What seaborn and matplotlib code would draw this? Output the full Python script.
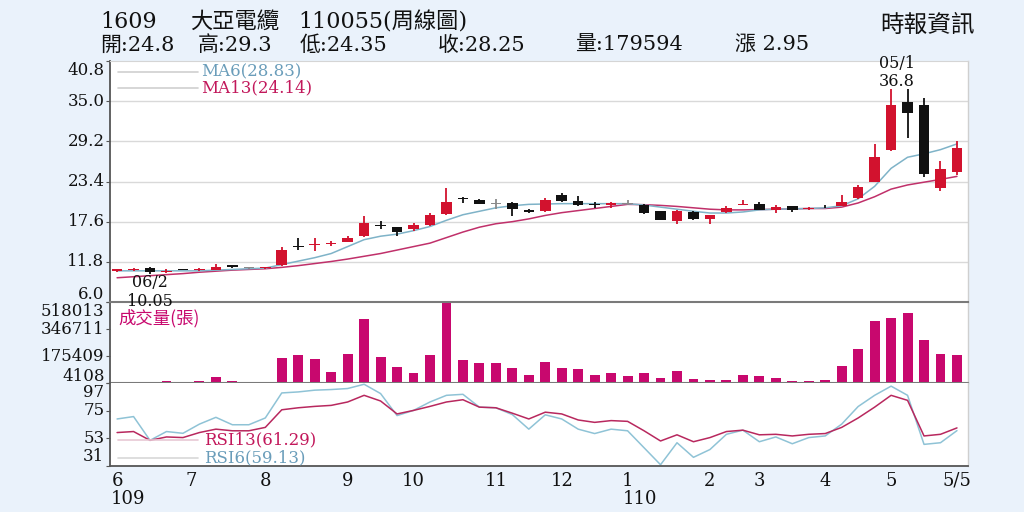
import numpy as np
import pandas as pd
import matplotlib
matplotlib.use("Agg")
import matplotlib.pyplot as plt
import seaborn as sns

# ---------------- data ----------------
open_ = [10.5, 10.65, 10.9, 10.4, 10.62, 10.55, 10.65, 11.3, 10.9, 10.85,
         11.3, 14.05, 14.2, 14.35, 14.7, 15.5, 17.1, 16.8, 16.6, 17.1,
         18.7, 20.95, 20.8, 20.1, 20.3, 19.3, 19.1, 21.4, 20.6, 20.1,
         19.95, 20.2, 20.0, 19.2, 17.65, 18.95, 18.0, 18.95, 20.05, 20.15,
         19.3, 19.8, 19.45, 19.75, 19.9, 21.0, 23.4, 27.9, 34.9, 34.45,
         22.4, 24.8]
high = [10.8, 10.9, 11.0, 10.7, 10.65, 10.85, 11.45, 11.4, 11.1, 11.0,
        14.0, 15.2, 15.2, 14.8, 15.6, 18.4, 17.7, 16.9, 17.4, 18.8,
        22.5, 21.2, 20.9, 20.9, 20.4, 19.5, 21.0, 21.7, 21.3, 20.4,
        20.5, 20.75, 20.1, 19.2, 19.3, 19.1, 18.6, 19.8, 20.7, 20.4,
        20.0, 19.9, 19.75, 19.95, 21.5, 22.9, 28.85, 36.8, 36.7, 35.5,
        26.3, 29.3]
low = [10.4, 10.5, 10.05, 10.2, 10.55, 10.5, 10.6, 10.95, 10.7, 10.8,
       11.2, 13.5, 13.3, 14.1, 14.6, 15.4, 16.5, 15.5, 16.3, 17.0,
       18.6, 20.3, 20.1, 19.5, 18.4, 18.8, 19.0, 20.5, 19.9, 19.6,
       19.6, 20.0, 18.7, 17.8, 17.2, 17.9, 17.3, 18.9, 20.0, 19.25,
       18.9, 19.0, 19.3, 19.6, 19.85, 20.9, 23.3, 27.8, 29.7, 24.0,
       22.1, 24.35]
close = [10.7, 10.7, 10.3, 10.45, 10.58, 10.7, 11.1, 11.0, 10.9, 10.92,
         13.5, 13.95, 14.3, 14.45, 15.3, 17.4, 17.0, 16.1, 17.05, 18.5,
         20.5, 20.85, 20.2, 20.1, 19.4, 18.95, 20.7, 20.55, 20.0, 20.0,
         20.3, 20.2, 18.85, 17.8, 19.2, 18.0, 18.5, 19.6, 20.15, 19.3,
         19.7, 19.3, 19.55, 19.65, 20.45, 22.6, 27.0, 34.45, 33.35, 24.55,
         25.2, 28.25]
ma6 = [10.5, 10.5, 10.5, 10.5, 10.5, 10.5, 10.6, 10.7, 10.8, 10.9,
       11.4, 11.9, 12.4, 13.0, 14.0, 15.0, 15.5, 15.8, 16.3, 16.9,
       17.8, 18.6, 19.1, 19.6, 19.9, 20.1, 20.15, 20.2, 20.2, 20.2,
       20.2, 20.2, 20.0, 19.7, 19.4, 19.1, 18.85, 18.85, 19.0, 19.3,
       19.4, 19.45, 19.5, 19.6, 19.9, 20.9, 22.7, 25.3, 26.9, 27.4,
       28.0, 28.83]
ma13 = [9.5, 9.65, 9.8, 9.95, 10.1, 10.3, 10.45, 10.6, 10.7, 10.8,
        11.0, 11.25, 11.55, 11.85, 12.2, 12.6, 13.0, 13.5, 14.0, 14.5,
        15.3, 16.1, 16.8, 17.3, 17.6, 18.0, 18.5, 18.9, 19.2, 19.5,
        19.8, 20.1, 20.05, 19.95, 19.8, 19.6, 19.4, 19.3, 19.3, 19.35,
        19.4, 19.45, 19.5, 19.5, 19.7, 20.3, 21.2, 22.3, 22.9, 23.3,
        23.7, 24.14]
volume = [12000, 6000, 9000, 14000, 4500, 18000, 44000, 18000, 10000, 10000,
          163000, 184000, 156000, 76700, 188500, 408800, 169200, 105000, 66400, 184000,
          518013, 147000, 132600, 132600, 102400, 58000, 137000, 102400, 94000, 53500,
          70500, 49000, 70000, 34000, 79000, 30000, 23400, 25000, 53500, 47000,
          34000, 19000, 19000, 25000, 109000, 220000, 398000, 417000, 449000, 280000,
          188000, 179594]
rsi6 = [68.4, 70.3, 51.4, 58.4, 57.0, 64.3, 69.7, 63.8, 63.8, 69.2,
        89.1, 89.9, 91.3, 91.8, 92.6, 96.0, 88.6, 71.1, 75.2, 81.9,
        87.2, 88.0, 77.8, 77.3, 71.9, 60.3, 71.7, 68.4, 60.3, 56.8,
        60.3, 59.0, 45.5, 32.0, 49.5, 37.9, 44.1, 56.2, 59.5, 50.3,
        54.1, 48.7, 53.6, 54.9, 64.3, 78.3, 87.2, 94.5, 87.2, 48.2,
        49.5, 59.13]
rsi13 = [57.6, 58.4, 51.4, 54.1, 53.6, 57.6, 60.3, 59.0, 59.0, 61.7,
         75.7, 77.3, 78.4, 79.2, 81.9, 87.2, 82.7, 72.4, 75.2, 78.4,
         81.9, 83.7, 77.8, 77.3, 73.0, 68.4, 73.8, 72.4, 67.6, 65.7,
         67.1, 66.5, 59.0, 50.9, 55.8, 50.3, 53.6, 58.4, 59.5, 55.8,
         56.2, 54.9, 56.2, 56.8, 61.7, 69.2, 77.8, 87.2, 83.2, 54.9,
         56.2, 61.29]

price_ticks = [6.0, 11.8, 17.6, 23.4, 29.2, 35.0, 40.8]
vol_ticks = [4108, 175409, 346711, 518013]
rsi_ticks = [31, 53, 75, 97]
month_pos = [0, 4.5, 9, 14, 18, 23, 27, 31, 36, 39, 43, 47, 51]
month_labels = ["6", "7", "8", "9", "10", "11", "12", "1", "2", "3", "4", "5", "5/5"]
year_labels = [("109", -0.4), ("110", 30.7)]

title_parts = ["1609", "大亞電纜", "110055(周線圖)"]
info_parts = ["開:24.8", "高:29.3", "低:24.35", "收:28.25", "量:179594", "漲 2.95"]
source_text = "時報資訊"
low_note = ("06/2", "10.05")
high_note = ("05/1", "36.8")

# ---------------- styling ----------------
sns.set_style("white")
plt.rcParams["font.family"] = ["DejaVu Serif", "Noto Sans CJK TC"]

RED = "#d2122e"
BLACK = "#111111"
GREY = "#8a8a8a"
MA6_C = "#7fb3c8"
MA13_C = "#c0306a"
VOL_C = "#c8086e"
RSI6_C = "#8fc3d6"
RSI13_C = "#b8285e"
BG = "#eaf2fb"

df = pd.DataFrame({"open": open_, "high": high, "low": low, "close": close,
                   "ma6": ma6, "ma13": ma13, "vol": volume,
                   "rsi6": rsi6, "rsi13": rsi13})
df["i"] = np.arange(len(df))
n = len(df)

fig = plt.figure(figsize=(10.24, 5.12), dpi=100, facecolor=BG)
L, W = 110 / 1024, 858 / 1024
ax1 = fig.add_axes([L, 1 - 302 / 512, W, 241 / 512])
ax2 = fig.add_axes([L, 1 - 383 / 512, W, 81 / 512], sharex=ax1)
ax3 = fig.add_axes([L, 1 - 466 / 512, W, 83 / 512], sharex=ax1)
for ax in (ax1, ax2, ax3):
    ax.set_facecolor("white")
ax1.set_zorder(5)

# ---------------- price panel ----------------
o = df["open"].values; c = df["close"].values
cols = [RED if cc > oo else (BLACK if cc < oo else GREY) for oo, cc in zip(o, c)]
for y in price_ticks[1:-1]:
    ax1.axhline(y, color="#d9d9d9", lw=1.0, zorder=0)
sns.lineplot(data=df, x="i", y="ma13", ax=ax1, color=MA13_C, lw=1.1, zorder=2)
sns.lineplot(data=df, x="i", y="ma6", ax=ax1, color=MA6_C, lw=1.1, zorder=2)
ax1.vlines(df["i"], df["low"], df["high"], colors=cols, lw=1.3, zorder=3)
ax1.bar(df["i"], np.maximum(np.abs(c - o), 0.14), bottom=np.minimum(o, c),
        width=0.64, color=cols, zorder=4, linewidth=0)
ax1.set_ylim(price_ticks[0], price_ticks[-1])
ax1.set_yticks(price_ticks)

# ---------------- volume panel ----------------
sns.barplot(data=df, x="i", y="vol", ax=ax2, color=VOL_C, saturation=1,
            width=0.6, native_scale=True, errorbar=None, linewidth=0)
ax2.set_ylim(vol_ticks[0], vol_ticks[-1])
ax2.set_yticks(vol_ticks)

# ---------------- RSI panel ----------------
sns.lineplot(data=df, x="i", y="rsi6", ax=ax3, color=RSI6_C, lw=1.1)
sns.lineplot(data=df, x="i", y="rsi13", ax=ax3, color=RSI13_C, lw=1.1)
ax3.set_ylim(rsi_ticks[0], rsi_ticks[-1])
ax3.set_yticks(rsi_ticks)
ax1.set_xlim(-0.43, n - 1 + 0.67)

# ---------------- axes cosmetics ----------------
for ax in (ax1, ax2, ax3):
    ax.set_xlabel(""); ax.set_ylabel("")
    ax.tick_params(axis="y", which="both", left=True, length=3, width=0.8,
                   color="#555555", labelleft=False)
    ax.spines["left"].set_color("#555555"); ax.spines["left"].set_linewidth(1.3)
    ax.spines["right"].set_color("#cfcfcf"); ax.spines["right"].set_linewidth(1.0)
ax1.spines["top"].set_color("#d5d5d5")
ax1.spines["bottom"].set_color("#7a7a7a"); ax1.spines["bottom"].set_linewidth(1.5)
ax2.spines["top"].set_visible(False)
ax2.spines["bottom"].set_color("#7a7a7a"); ax2.spines["bottom"].set_linewidth(1.5)
ax3.spines["top"].set_visible(False)
ax3.spines["bottom"].set_color("#555555"); ax3.spines["bottom"].set_linewidth(1.3)
for ax in (ax1, ax2):
    ax.tick_params(axis="x", which="both", bottom=False, labelbottom=False)

ax3.set_xticks(month_pos)
ax3.set_xticks(np.arange(n), minor=True)
ax3.set_xticklabels(month_labels, fontsize=13, color="#111111")
ax3.tick_params(axis="x", which="major", length=4, color="#666666", pad=0)
ax3.tick_params(axis="x", which="minor", length=2.5, color="#888888")
for txt, xpos in year_labels:
    ax3.annotate(txt, xy=(xpos, 0), xycoords=("data", "axes fraction"),
                 xytext=(0, -24), textcoords="offset points",
                 ha="left", va="center", fontsize=13, color="#111111")


def ylabels(ax, ticks, fmt, top_off, bot_off):
    for k, v in enumerate(ticks):
        dy = top_off if k == len(ticks) - 1 else (bot_off if k == 0 else 0)
        ax.annotate(fmt(v), xy=(0, v), xycoords=("axes fraction", "data"),
                    xytext=(-4, dy), textcoords="offset points",
                    ha="right", va="center", fontsize=12, color="#111111",
                    annotation_clip=False)


ylabels(ax1, price_ticks, lambda v: f"{v:.1f}", -6.5, 5.5)
ylabels(ax2, vol_ticks, lambda v: f"{v:d}", -6.5, 4.5)
ylabels(ax3, rsi_ticks, lambda v: f"{v:d}", -6.5, 6.5)

# ---------------- legends / labels ----------------
x0, x1, xt = 8 / 858, 88 / 858, 91 / 858
ax1.plot([x0, x1], [0.954, 0.954], transform=ax1.transAxes, color="#d0d0d0", lw=1.2)
ax1.plot([x0, x1], [0.888, 0.888], transform=ax1.transAxes, color="#d0d0d0", lw=1.2)
ax1.text(xt, 0.954, f"MA6({ma6[-1]:.2f})", transform=ax1.transAxes,
         color="#6a9dba", fontsize=12, va="center", ha="left")
ax1.text(xt, 0.888, f"MA13({ma13[-1]:.2f})", transform=ax1.transAxes,
         color="#c2185b", fontsize=12, va="center", ha="left")

ax2.text(8 / 858, 0.80, "成交量(張)", transform=ax2.transAxes, color=VOL_C,
         fontsize=12.5, va="center", ha="left", family=["Noto Sans CJK TC"])

ax3.plot([x0, x1], [0.313, 0.313], transform=ax3.transAxes, color="#e8c8d4", lw=1.2)
ax3.plot([x0, x1], [0.096, 0.096], transform=ax3.transAxes, color="#d8d8d8", lw=1.2)
ax3.text(xt + 3 / 858, 0.313, f"RSI13({rsi13[-1]:.2f})", transform=ax3.transAxes,
         color="#c2185b", fontsize=12, va="center", ha="left")
ax3.text(xt + 3 / 858, 0.096, f"RSI6({rsi6[-1]:.2f})", transform=ax3.transAxes,
         color="#6a9dba", fontsize=12, va="center", ha="left")

# low / high annotations
i_lo = int(np.argmin(low)); i_hi = int(np.argmax(high))
ax1.annotate(low_note[0], xy=(i_lo, low[i_lo]), xytext=(0, -6.5), textcoords="offset points",
             ha="center", va="center", fontsize=11.5, color="#111111", annotation_clip=False)
ax1.annotate(low_note[1], xy=(i_lo, low[i_lo]), xytext=(0, -19.5), textcoords="offset points",
             ha="center", va="center", fontsize=11.5, color="#111111", annotation_clip=False)
ax1.annotate(high_note[0], xy=(i_hi, high[i_hi]), xytext=(4, 18.5), textcoords="offset points",
             ha="center", va="center", fontsize=11.5, color="#111111", annotation_clip=False)
ax1.annotate(high_note[1], xy=(i_hi, high[i_hi]), xytext=(4, 5.5), textcoords="offset points",
             ha="center", va="center", fontsize=11.5, color="#111111", annotation_clip=False)

# ---------------- header ----------------
def fx(px):
    return px / 1024


def fy(py):
    return 1 - py / 512


for txt, px in zip(title_parts, [100, 190, 298]):
    fig.text(fx(px), fy(22), txt, fontsize=16, color="#111111", ha="left", va="center")
for txt, px in zip(info_parts, [100, 198, 300, 438, 575, 735]):
    fig.text(fx(px), fy(45), txt, fontsize=15, color="#111111", ha="left", va="center")
fig.text(fx(975), fy(25), source_text, fontsize=17, color="#111111", ha="right", va="center",
         family=["Noto Sans CJK TC"])

fig.savefig("out.png", dpi=100, facecolor=BG)
